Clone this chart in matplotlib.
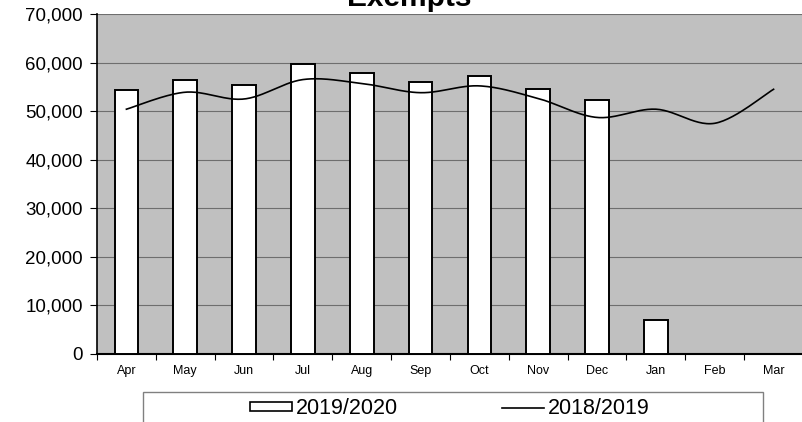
import numpy as np
import matplotlib.pyplot as plt
from matplotlib.patches import Rectangle
from matplotlib.lines import Line2D
from matplotlib.ticker import FuncFormatter, FixedLocator

plt.rcParams["font.family"] = ["Liberation Sans", "DejaVu Sans"]

months = ["Apr", "May", "Jun", "Jul", "Aug", "Sep", "Oct", "Nov", "Dec", "Jan", "Feb", "Mar"]
current = [54300, 56500, 55400, 59700, 57900, 56000, 57200, 54600, 52300, 6900]
previous = [50400, 53900, 52500, 56500, 55700, 53800, 55200, 52600, 48700, 50400, 47500, 54500]


def smooth_curve(x, y, steps=30):
    # Catmull-Rom style smoothing, like a spreadsheet "smoothed line"
    x = np.asarray(x, float)
    y = np.asarray(y, float)
    px = np.concatenate([[x[0]], x, [x[-1]]])
    py = np.concatenate([[y[0]], y, [y[-1]]])
    xs, ys = [], []
    t = np.linspace(0, 1, steps)
    for i in range(1, len(px) - 2):
        p0x, p1x, p2x, p3x = px[i - 1], px[i], px[i + 1], px[i + 2]
        p0y, p1y, p2y, p3y = py[i - 1], py[i], py[i + 1], py[i + 2]
        c1x, c1y = p1x + (p2x - p0x) / 6, p1y + (p2y - p0y) / 6
        c2x, c2y = p2x - (p3x - p1x) / 6, p2y - (p3y - p1y) / 6
        bx = (1 - t) ** 3 * p1x + 3 * (1 - t) ** 2 * t * c1x + 3 * (1 - t) * t ** 2 * c2x + t ** 3 * p2x
        by = (1 - t) ** 3 * p1y + 3 * (1 - t) ** 2 * t * c1y + 3 * (1 - t) * t ** 2 * c2y + t ** 3 * p2y
        xs.extend(bx)
        ys.extend(by)
    return np.array(xs), np.array(ys)


fig = plt.figure(figsize=(8.03, 4.22), dpi=100)
W, H = 803, 422
ax = fig.add_axes([97 / W, 1 - 354 / H, (803 - 97) / W, (354 - 14) / H])
ax.set_facecolor("#c0c0c0")

x = np.arange(len(months))
ax.bar(x[:len(current)], current, width=0.4, color="white", edgecolor="black",
       linewidth=1.4, zorder=3)
sx, sy = smooth_curve(x, previous)
ax.plot(sx, sy, color="black", linewidth=1.2, zorder=4)

ax.set_xlim(-0.5, len(months) - 0.5)
ax.set_ylim(0, 70000)
ax.set_yticks(np.arange(0, 70001, 10000))
ax.yaxis.set_major_formatter(FuncFormatter(lambda v, p: f"{int(v):,}"))
ax.grid(axis="y", color="#6e6e6e", linewidth=0.8, zorder=1)
ax.set_axisbelow(True)

ax.set_xticks(x)
ax.set_xticklabels(months, fontsize=9)
ax.xaxis.set_minor_locator(FixedLocator(np.arange(-0.5, len(months), 1.0)))
ax.tick_params(axis="x", which="major", length=0, pad=8)
ax.tick_params(axis="x", which="minor", length=4, width=0.8)
ax.tick_params(axis="y", labelsize=13.5, length=5, width=0.8, pad=5)

for side in ["top", "right"]:
    ax.spines[side].set_visible(False)
ax.spines["left"].set_linewidth(1.2)
ax.spines["bottom"].set_linewidth(1.5)

fig.text(409 / W, 1 - 6 / H, "Exempts", ha="center", va="baseline",
         fontsize=21.5, fontweight="bold")

# legend box runs off the bottom edge
fig.patches.append(Rectangle((143 / W, -0.05), (763 - 143) / W, (1 - 392 / H) + 0.05,
                             transform=fig.transFigure, facecolor="white",
                             edgecolor="#808080", linewidth=1.0))
handles = [Rectangle((0, 0), 1, 1, facecolor="white", edgecolor="black", linewidth=1.2),
           Line2D([], [], color="black", linewidth=1.2)]
fig.legend(handles, ["2019/2020", "2018/2019"], ncol=2, frameon=False,
           loc="center left", bbox_to_anchor=(250 / W, 1 - 409 / H),
           fontsize=15.5, handlelength=1.95, handleheight=0.3, handletextpad=0.2,
           columnspacing=4.8, borderpad=0, borderaxespad=0)

fig.savefig("out.png", dpi=100)
